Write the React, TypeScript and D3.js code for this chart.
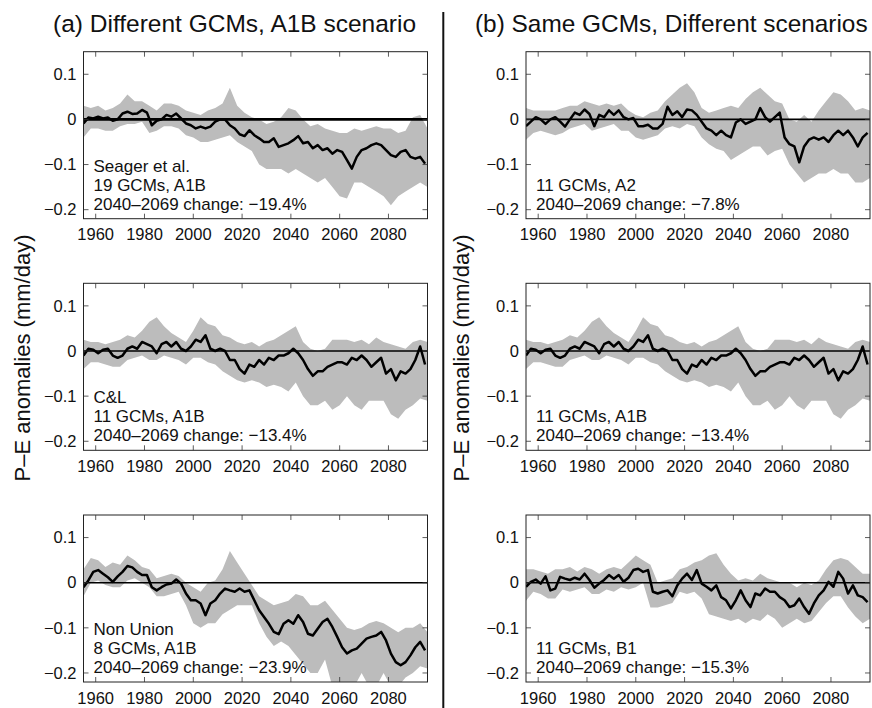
import * as d3 from "d3";

// years for the running-mean line and for the model spread band
const meanYears = d3.range(1955, 2096, 2);
const bandYears = d3.range(1955, 2097, 3);

const xTicks = [1960, 1980, 2000, 2020, 2040, 2060, 2080];
const yTicks = [0.1, 0, -0.1, -0.2];
const yTickLabels = ["0.1", "0", "−0.1", "−0.2"];

// (a) top: Seager et al., 19 GCMs A1B
const seagerMean = [
  -0.009, 0.004, 0.002, 0.006, 0.002, 0.004, -0.003, 0.0, 0.013, 0.017,
  0.012, 0.013, 0.021, 0.015, -0.013, -0.003, 0.0, 0.01, 0.006, 0.013,
  0.002, -0.009, -0.013, -0.02, -0.016, -0.02, -0.016, -0.005, 0.0, 0.0,
  -0.013, -0.02, -0.033, -0.037, -0.024, -0.035, -0.042, -0.05, -0.05, -0.042,
  -0.061, -0.057, -0.053, -0.046, -0.037, -0.053, -0.05, -0.064, -0.057, -0.068,
  -0.064, -0.076, -0.068, -0.072, -0.09, -0.109, -0.083, -0.068, -0.064, -0.057,
  -0.053, -0.057, -0.068, -0.079, -0.083, -0.072, -0.068, -0.083, -0.087, -0.083,
  -0.098,
];
const seagerHigh = [
  0.03, 0.025, 0.03, 0.02, 0.025, 0.035, 0.055, 0.04, 0.04, 0.03,
  0.02, 0.035, 0.035, 0.03, 0.02, 0.015, 0.01, 0.02, 0.025, 0.035,
  0.07, 0.03, 0.015, 0.005, 0.0, -0.01, -0.005, 0.005, 0.025, 0.02,
  0.0, -0.015, -0.01, -0.02, -0.025, -0.03, -0.03, -0.02, -0.025, -0.02,
  -0.015, -0.02, -0.02, -0.03, -0.025, 0.005, 0.01, -0.02,
];
const seagerLow = [
  -0.04, -0.02, -0.02, -0.025, -0.025, -0.015, -0.01, -0.01, -0.005, -0.03,
  -0.025, -0.015, -0.015, -0.02, -0.035, -0.04, -0.05, -0.05, -0.045, -0.04,
  -0.035, -0.05, -0.06, -0.07, -0.1, -0.11, -0.11, -0.11, -0.12, -0.11,
  -0.12, -0.13, -0.14, -0.13, -0.15, -0.17, -0.175, -0.14, -0.14, -0.15,
  -0.16, -0.17, -0.19, -0.17, -0.16, -0.15, -0.14, -0.15,
];

// C&L, 11 GCMs A1B (same in both columns)
const clMean = [
  -0.01, 0.005, 0.003, -0.005, 0.003, 0.005, -0.01, -0.015, -0.01, 0.005,
  0.01, 0.005, 0.02, 0.015, 0.01, -0.005, 0.015, 0.02, 0.01, 0.02,
  0.005, 0.0, 0.01, 0.025, 0.02, 0.035, 0.005, 0.0, 0.005, 0.0,
  -0.02, -0.02, -0.04, -0.05, -0.03, -0.035, -0.02, -0.03, -0.015, -0.02,
  -0.01, -0.01, -0.005, 0.005, -0.005, -0.02, -0.04, -0.055, -0.045, -0.045,
  -0.035, -0.03, -0.025, -0.025, -0.03, -0.015, -0.02, -0.01, -0.02, -0.035,
  -0.025, -0.015, -0.05, -0.04, -0.065, -0.045, -0.05, -0.04, -0.02, 0.01,
  -0.03,
];
const clHigh = [
  0.025, 0.02, 0.02, 0.015, 0.02, 0.025, 0.035, 0.03, 0.045, 0.065,
  0.075, 0.055, 0.04, 0.03, 0.02, 0.045, 0.075, 0.06, 0.055, 0.035,
  0.03, 0.02, 0.015, 0.02, 0.01, 0.02, 0.025, 0.035, 0.045, 0.055,
  0.02, 0.005, 0.0, 0.005, 0.025, 0.025, 0.025, 0.02, 0.025, 0.015,
  0.03, 0.02, 0.015, 0.01, 0.005, 0.02, 0.025, 0.02,
];
const clLow = [
  -0.04, -0.025, -0.025, -0.03, -0.035, -0.035, -0.02, -0.015, -0.01, -0.02,
  -0.02, -0.01, -0.015, -0.02, -0.03, -0.015, -0.015, -0.025, -0.03, -0.045,
  -0.055, -0.065, -0.07, -0.065, -0.07, -0.08, -0.075, -0.08, -0.09, -0.07,
  -0.1, -0.12, -0.12, -0.11, -0.13, -0.12, -0.1, -0.12, -0.13, -0.11,
  -0.11, -0.11, -0.14, -0.15, -0.13, -0.12, -0.105, -0.11,
];

// Non Union, 8 GCMs A1B
const nuMean = [
  -0.01, 0.005, 0.024, 0.028, 0.02, 0.012, 0.002, 0.014, 0.024, 0.037,
  0.034, 0.024, 0.017, 0.017, -0.01, -0.017, -0.01, -0.004, -0.002, 0.007,
  -0.002, -0.024, -0.039, -0.039, -0.046, -0.072, -0.046, -0.039, -0.024, -0.013,
  -0.017, -0.02, -0.013, -0.02, -0.017, -0.039, -0.061, -0.076, -0.091, -0.109,
  -0.114, -0.091, -0.083, -0.091, -0.072, -0.087, -0.113, -0.117, -0.102, -0.087,
  -0.08, -0.098, -0.12, -0.143, -0.157, -0.15, -0.146, -0.135, -0.124, -0.12,
  -0.117, -0.109, -0.128, -0.157, -0.176, -0.183, -0.176, -0.161, -0.143, -0.131,
  -0.15,
];
const nuHigh = [
  0.03, 0.055, 0.05, 0.035, 0.045, 0.04, 0.06, 0.05, 0.035, 0.03,
  0.01, 0.015, 0.02, 0.015, 0.0, -0.01, -0.02, 0.0, 0.005, 0.03,
  0.07, 0.045, 0.02, -0.005, -0.03, -0.04, -0.05, -0.045, -0.04, -0.025,
  -0.03, -0.05, -0.05, -0.04, -0.06, -0.08, -0.1, -0.105, -0.1, -0.09,
  -0.085, -0.09, -0.1, -0.11, -0.1, -0.1, -0.09, -0.11,
];
const nuLow = [
  -0.03, 0.0, 0.005, -0.005, -0.01, -0.01, 0.005, 0.01, 0.0, -0.01,
  -0.03, -0.03, -0.025, -0.02, -0.05, -0.09, -0.1, -0.09, -0.09, -0.07,
  -0.06, -0.05, -0.05, -0.05, -0.09, -0.12, -0.14, -0.13, -0.14, -0.16,
  -0.18, -0.2, -0.2, -0.17, -0.23, -0.23, -0.23, -0.23, -0.2, -0.23,
  -0.23, -0.2, -0.23, -0.23, -0.21, -0.2, -0.185, -0.19,
];

// 11 GCMs, A2
const a2Mean = [
  -0.015, -0.005, 0.005, 0.0, -0.01, 0.0, 0.005, -0.005, -0.016, 0.0,
  0.015, 0.01, 0.022, 0.012, -0.015, 0.01, 0.005, 0.02, 0.01, 0.02,
  0.005, 0.0, 0.003, -0.015, -0.015, -0.012, -0.02, -0.02, -0.01, 0.028,
  0.01, 0.018, 0.005, 0.022, 0.02, 0.01, -0.005, -0.02, -0.025, -0.035,
  -0.025, -0.035, -0.04, -0.007, 0.0, -0.01, -0.005, 0.0, 0.025, 0.005,
  -0.005, 0.005, 0.015, -0.04, -0.055, -0.06, -0.095, -0.06, -0.045, -0.04,
  -0.045, -0.04, -0.05, -0.035, -0.025, -0.035, -0.025, -0.04, -0.06, -0.04,
  -0.03,
];
const a2High = [
  0.025, 0.02, 0.02, 0.02, 0.02, 0.025, 0.03, 0.03, 0.04, 0.035,
  0.03, 0.035, 0.03, 0.035, 0.02, 0.01, 0.005, 0.015, 0.02, 0.04,
  0.055, 0.07, 0.08, 0.06, 0.025, 0.015, 0.02, 0.025, 0.03, 0.025,
  0.045, 0.06, 0.07, 0.055, 0.04, 0.035, 0.0, -0.005, 0.01, -0.005,
  0.02, 0.04, 0.06, 0.055, 0.04, 0.02, 0.025, 0.02,
];
const a2Low = [
  -0.045, -0.03, -0.025, -0.03, -0.035, -0.03, -0.02, -0.015, -0.01, -0.025,
  -0.02, -0.015, -0.01, -0.025, -0.025, -0.04, -0.045, -0.04, -0.035, -0.02,
  -0.015, -0.02, -0.01, -0.015, -0.04, -0.055, -0.065, -0.07, -0.09, -0.08,
  -0.07, -0.06, -0.06, -0.08, -0.07, -0.065, -0.1, -0.12, -0.14, -0.13,
  -0.12, -0.12, -0.11, -0.12, -0.12, -0.14, -0.14, -0.13,
];

// 11 GCMs, B1
const b1Mean = [
  -0.009, 0.002, 0.007, -0.002, 0.014, -0.017, -0.013, 0.013, 0.009, 0.006,
  0.011, 0.007, 0.02, 0.006, -0.011, -0.002, 0.006, 0.017, 0.009, 0.017,
  0.002, 0.011, 0.028, 0.031, 0.024, 0.028, -0.02, -0.024, -0.02, -0.017,
  -0.03, -0.006, 0.009, 0.02, 0.006, 0.028, -0.002, -0.009, -0.017, -0.006,
  -0.032, -0.039, -0.057, -0.039, -0.017, -0.039, -0.054, -0.024, -0.028, -0.013,
  -0.02, -0.02, -0.032, -0.039, -0.054, -0.05, -0.035, -0.054, -0.069, -0.046,
  -0.028, -0.017, 0.002, -0.009, 0.024, 0.009, -0.024, -0.006, -0.028, -0.032,
  -0.043,
];
const b1High = [
  0.03, 0.03, 0.025, 0.02, 0.03, 0.03, 0.035, 0.025, 0.035, 0.03,
  0.02, 0.03, 0.035, 0.03, 0.045, 0.06, 0.05, 0.04, 0.0, 0.005,
  0.01, 0.03, 0.035, 0.045, 0.05, 0.06, 0.065, 0.04, 0.02, 0.005,
  0.01, 0.005, 0.02, 0.01, 0.005, 0.0, 0.0, -0.01, 0.0, -0.005,
  0.005, 0.03, 0.05, 0.055, 0.05, 0.035, 0.02, 0.02,
];
const b1Low = [
  -0.04, -0.02, -0.025, -0.035, -0.035, -0.015, -0.02, -0.015, -0.01, -0.025,
  -0.025, -0.015, -0.02, -0.01, -0.015, -0.01, 0.0, -0.055, -0.055, -0.05,
  -0.045, -0.02, -0.025, -0.02, -0.035, -0.07, -0.075, -0.08, -0.085, -0.08,
  -0.09, -0.08, -0.085, -0.07, -0.08, -0.1, -0.09, -0.08, -0.09, -0.085,
  -0.065, -0.045, -0.03, -0.03, -0.055, -0.075, -0.09, -0.08,
];

const panels = [
  { col: 0, row: 0, mean: seagerMean, high: seagerHigh, low: seagerLow, zero: 2.6,
    notes: ["Seager et al.", "19 GCMs, A1B", "2040–2069 change: −19.4%"] },
  { col: 0, row: 1, mean: clMean, high: clHigh, low: clLow, zero: 1.4,
    notes: ["C&L", "11 GCMs, A1B", "2040–2069 change: −13.4%"] },
  { col: 0, row: 2, mean: nuMean, high: nuHigh, low: nuLow, zero: 1.4,
    notes: ["Non Union", "8 GCMs, A1B", "2040–2069 change: −23.9%"] },
  { col: 1, row: 0, mean: a2Mean, high: a2High, low: a2Low, zero: 1.6,
    notes: ["11 GCMs, A2", "2040–2069 change: −7.8%"] },
  { col: 1, row: 1, mean: clMean, high: clHigh, low: clLow, zero: 1.6,
    notes: ["11 GCMs, A1B", "2040–2069 change: −13.4%"] },
  { col: 1, row: 2, mean: b1Mean, high: b1High, low: b1Low, zero: 1.4,
    notes: ["11 GCMs, B1", "2040–2069 change: −15.3%"] },
];

const FONT = "'Liberation Sans', Arial, Helvetica, sans-serif";
const colLeft = [83.5, 526];
const rowTop = [51.7, 283.3, 515];
const PW = 344;
const PH = 167;

function Panel({ p, idx }: { p: (typeof panels)[number]; idx: number }) {
  const left = colLeft[p.col];
  const top = rowTop[p.row];
  const x = d3.scaleLinear().domain([1955, 2096]).range([0, PW]);
  const y = d3.scaleLinear().domain([-0.22, 0.15]).range([PH, 0]);

  const band = d3
    .area<number>()
    .x((_, i) => x(bandYears[i]))
    .y0((_, i) => y(p.low[i]))
    .y1((d) => y(d));
  const line = d3
    .line<number>()
    .x((_, i) => x(meanYears[i]))
    .y((d) => y(d));

  const clipId = `clip-${idx}`;
  const tk = 5;
  const nl = p.notes.length;

  return (
    <g transform={`translate(${left},${top})`}>
      <defs>
        <clipPath id={clipId}>
          <rect x={0} y={0} width={PW} height={PH} />
        </clipPath>
      </defs>
      <g clipPath={`url(#${clipId})`}>
        <path d={band(p.high) || ""} fill="#bcbcbc" stroke="none" />
        <line x1={0} x2={PW} y1={y(0)} y2={y(0)} stroke="#000" strokeWidth={p.zero} />
        <path
          d={line(p.mean) || ""}
          fill="none"
          stroke="#000"
          strokeWidth={2.5}
          strokeLinejoin="round"
        />
      </g>
      <rect x={0} y={0} width={PW} height={PH} fill="none" stroke="#222" strokeWidth={1} />
      {xTicks.map((t) => (
        <g key={`x${t}`}>
          <line x1={x(t)} x2={x(t)} y1={PH} y2={PH - tk} stroke="#333" strokeWidth={0.8} />
          <line x1={x(t)} x2={x(t)} y1={0} y2={tk} stroke="#333" strokeWidth={0.8} />
          <text
            x={x(t)}
            y={PH + 21.5}
            textAnchor="middle"
            fontSize={16.5}
            fontFamily={FONT}
            fill="#111"
          >
            {t}
          </text>
        </g>
      ))}
      {yTicks.map((t, i) => (
        <g key={`y${t}`}>
          <line x1={0} x2={tk} y1={y(t)} y2={y(t)} stroke="#333" strokeWidth={0.8} />
          <line x1={PW} x2={PW - tk} y1={y(t)} y2={y(t)} stroke="#333" strokeWidth={0.8} />
          <text
            x={-7}
            y={y(t)}
            dy="0.35em"
            textAnchor="end"
            fontSize={16.5}
            fontFamily={FONT}
            fill="#111"
          >
            {yTickLabels[i]}
          </text>
        </g>
      ))}
      {p.notes.map((s, i) => (
        <text
          key={s}
          x={10}
          y={PH - 9 - (nl - 1 - i) * 19}
          fontSize={17}
          fontFamily={FONT}
          fill="#111"
        >
          {s}
        </text>
      ))}
    </g>
  );
}

export default function App() {
  return (
    <div style={{ position: "absolute", left: 0, top: 0 }}>
      <svg width={872} height={708} style={{ display: "block", background: "#fff" }}>
        <rect x={0} y={0} width={872} height={708} fill="#fff" />
        <text x={53} y={32} fontSize={24.5} fontFamily={FONT} fill="#111">
          (a) Different GCMs, A1B scenario
        </text>
        <text x={475} y={32} fontSize={24.4} fontFamily={FONT} fill="#111">
          (b) Same GCMs, Different scenarios
        </text>
        <line x1={443.3} x2={443.3} y1={12} y2={708} stroke="#111" strokeWidth={2} />
        {[22, 461].map((cx) => (
          <text
            key={cx}
            transform={`translate(${cx},358) rotate(-90)`}
            textAnchor="middle"
            dy="0.35em"
            fontSize={22}
            fontFamily={FONT}
            fill="#111"
          >
            P–E anomalies (mm/day)
          </text>
        ))}
        {panels.map((p, i) => (
          <Panel key={i} p={p} idx={i} />
        ))}
      </svg>
    </div>
  );
}
